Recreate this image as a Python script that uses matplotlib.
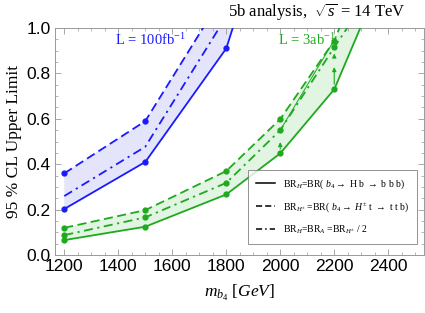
import matplotlib
matplotlib.use("Agg")
import matplotlib.pyplot as plt
from matplotlib.lines import Line2D
from matplotlib.ticker import MultipleLocator

plt.rcParams['mathtext.fontset'] = 'custom'
plt.rcParams['mathtext.rm'] = 'Liberation Serif'
plt.rcParams['mathtext.it'] = 'Liberation Serif:italic'
plt.rcParams['mathtext.bf'] = 'Liberation Serif:bold'

# --- data ---
mass = [1200, 1500, 1800, 2000, 2200, 2400]
mass_blue = [1200, 1500, 1800, 2000]
blue_solid = [0.203, 0.41, 0.91, 1.66]
blue_dashed = [0.36, 0.59, 1.165, 1.60]
blue_dashdot = [0.26, 0.477, 1.05, 1.55]
green_solid = [0.066, 0.125, 0.267, 0.448, 0.73, 1.29]
green_dashed = [0.12, 0.198, 0.37, 0.599, 0.944, 1.53]
green_dashdot = [0.088, 0.166, 0.318, 0.55, 0.915, 1.27]
# stray annotations seen in the green band
arrow_x = [2000, 2200, 2200]
arrow_y0 = [0.455, 0.74, 0.86]
arrow_y1 = [0.51, 0.84, 0.90]
thin_x = [2000, 2200]
thin_y = [0.55, 0.947]

xticks = [1200, 1400, 1600, 1800, 2000, 2200, 2400]
yticks = [0.0, 0.2, 0.4, 0.6, 0.8, 1.0]

BLUE = '#1a1aff'
GREEN = '#1eaa1e'
BLUE_FILL = '#e4e4fa'
GREEN_FILL = '#e2f4e2'

fig = plt.figure(figsize=(4.25, 3.13), dpi=100)
ax = fig.add_axes([0.129, 0.185, 0.869, 0.7255])

lw = 1.3
ax.fill_between(mass_blue, blue_solid, blue_dashed, color=BLUE_FILL, lw=0, zorder=1)
ax.fill_between(mass, green_solid, green_dashed, color=GREEN_FILL, lw=0, zorder=1)

ms = 3.5
ax.plot(mass_blue, blue_solid, '-', color=BLUE, lw=lw, marker='o', ms=ms, zorder=3)
ax.plot(mass_blue, blue_dashed, color=BLUE, lw=lw, ls=(0, (5, 2.5)), marker='o', ms=ms, zorder=3)
ax.plot(mass_blue, blue_dashdot, color=BLUE, lw=lw, ls=(0, (5, 2.5, 1.2, 2.5)), zorder=3)

ax.plot(mass, green_solid, '-', color=GREEN, lw=lw, marker='o', ms=ms, zorder=3)
ax.plot(mass, green_dashed, color=GREEN, lw=lw, ls=(0, (5, 2.5)), marker='o', ms=ms, zorder=3)
ax.plot(mass, green_dashdot, color=GREEN, lw=lw, ls=(0, (5, 2.5, 1.2, 2.5)), marker='o', ms=ms, zorder=3)
ax.plot(thin_x, thin_y, '-', color=GREEN, lw=0.7, zorder=3)
for x, y0, y1 in zip(arrow_x, arrow_y0, arrow_y1):
    ax.annotate('', xy=(x, y1), xytext=(x, y0),
                arrowprops=dict(arrowstyle='-|>', color=GREEN, lw=0.8,
                                mutation_scale=6), zorder=3)

ax.set_xlim(1165, 2533)
ax.set_ylim(0, 1.0)
ax.set_xticks(xticks)
ax.set_yticks(yticks)
ax.set_yticklabels([f'{v:.1f}' for v in yticks])
ax.xaxis.set_minor_locator(MultipleLocator(50))
ax.yaxis.set_minor_locator(MultipleLocator(0.05))
ax.tick_params(which='both', direction='in', top=True, right=True, color='#999999')
ax.tick_params(which='major', length=4, width=0.6, pad=3)
ax.tick_params(which='minor', length=2.2, width=0.5)
for lab in ax.get_xticklabels() + ax.get_yticklabels():
    lab.set_fontfamily('Liberation Sans')
    lab.set_fontsize(12.5)
for s in ax.spines.values():
    s.set_color('#999999')
    s.set_linewidth(0.7)

ax.set_xlabel(r'$m_{b_4}$ $[GeV]$', fontsize=12.5, fontfamily='Liberation Serif', labelpad=6)
ax.set_ylabel('95 % CL Upper Limit', fontsize=12.5, fontfamily='Liberation Serif', labelpad=3)

fig.text(0.745, 0.962, r'5b analysis,  $\sqrt{s}$ = 14 TeV', ha='center', va='center',
         fontsize=12, fontfamily='Liberation Serif')

ax.text(1520, 0.945, r'L = 100fb$^{-1}$', color=BLUE, fontsize=10.5,
        fontfamily='Liberation Serif', ha='center', va='center')
ax.text(2100, 0.945, r'L = 3ab$^{-1}$', color=GREEN, fontsize=10.5,
        fontfamily='Liberation Serif', ha='center', va='center')

handles = [Line2D([], [], color='black', lw=1.1, ls='-'),
           Line2D([], [], color='black', lw=1.1, ls=(0, (4, 2))),
           Line2D([], [], color='black', lw=1.1, ls=(0, (4, 2, 1, 2)))]
labels = [r'BR$_{H}$=BR( $b_4$$\rightarrow$ H b $\rightarrow$ b b b)',
          r'BR$_{H^{\pm}}$ =BR( $b_4$$\rightarrow$ $H^{\pm}$ t $\rightarrow$ t t b)',
          r'BR$_{H}$=BR$_{A}$ =BR$_{H^{\pm}}$ / 2']
leg = ax.legend(handles, labels, loc='lower right', bbox_to_anchor=(0.985, 0.04),
                prop={'family': 'Liberation Serif', 'size': 7.0}, frameon=True,
                fancybox=False, edgecolor='#777777', handlelength=2.0,
                borderpad=0.8, labelspacing=1.0, handletextpad=0.8,
                borderaxespad=0.2)
leg.get_frame().set_linewidth(0.7)

fig.savefig('out.png', dpi=100)
